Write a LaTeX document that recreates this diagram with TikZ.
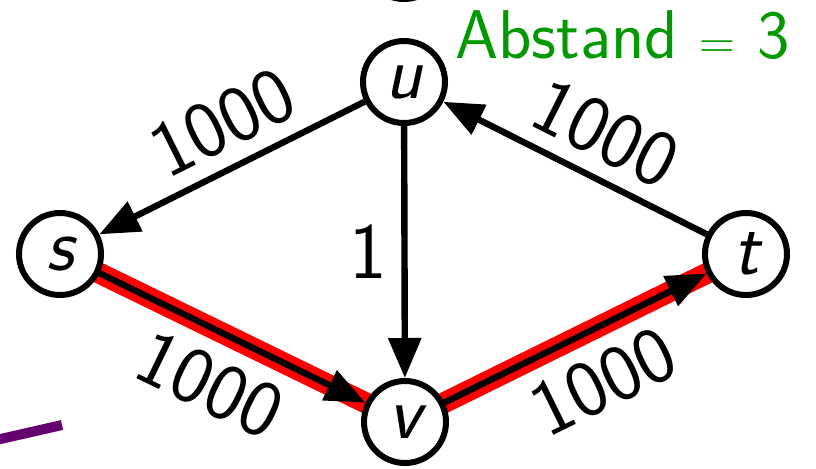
\documentclass[tikz,border=0pt]{standalone}
\usetikzlibrary{arrows.meta,backgrounds}
\definecolor{hlred}{RGB}{255,0,0}
\definecolor{absgreen}{RGB}{0,153,0}
\definecolor{lila}{RGB}{102,0,110}
\begin{document}
\begin{tikzpicture}[x=0.5pt,y=-0.5pt,
  vert/.style={circle, draw, line width=3pt, fill=white, minimum size=41pt, inner sep=0pt,
    font=\fontsize{38}{42}\selectfont\sffamily\slshape},
  edge/.style={line width=3.2pt, -{Triangle[length=20pt,width=16pt]}},
  hl/.style={line width=10.5pt, hlred},
  wt/.style={font=\fontsize{40}{44}\selectfont\sffamily, inner sep=2pt}]
\useasboundingbox (0,0) rectangle (816,468);
\clip (0,0) rectangle (816,468);
\node[vert] (w) at (404,-42) {};
\node[vert] (u) at (404,82) {u};
\node[vert] (s) at (60,254) {s};
\node[vert] (t) at (746,254) {t};
\node[vert] (v) at (405,422) {v};
\begin{pgfonlayer}{background}
\draw[hl] (s.center) -- (v.center);
\draw[hl] (v.center) -- (t.center);
\end{pgfonlayer}
\draw[edge] (u) -- (s) node[wt, sloped, above=5pt, pos=0.46] {1000};
\draw[edge] (t) -- (u) node[wt, sloped, above=5pt, pos=0.46] {1000};
\draw[edge] (u) -- (v) node[wt, left=5pt, midway] {1};
\draw[edge] (s) -- (v) node[wt, sloped, below=8.5pt, midway] {1000};
\draw[edge] (v) -- (t) node[wt, sloped, below=8.5pt, pos=0.52] {1000};
\node[anchor=base west, inner sep=0pt, text=absgreen, font=\fontsize{34.5}{40}\selectfont\sffamily] (abst) at (455,58) {Abstand $=$ 3};
\coordinate (p1) at (62,425);
\coordinate (p2) at (-30,446);
\draw[lila, line width=5pt] (p1) -- (p2);
\end{tikzpicture}
\end{document}
